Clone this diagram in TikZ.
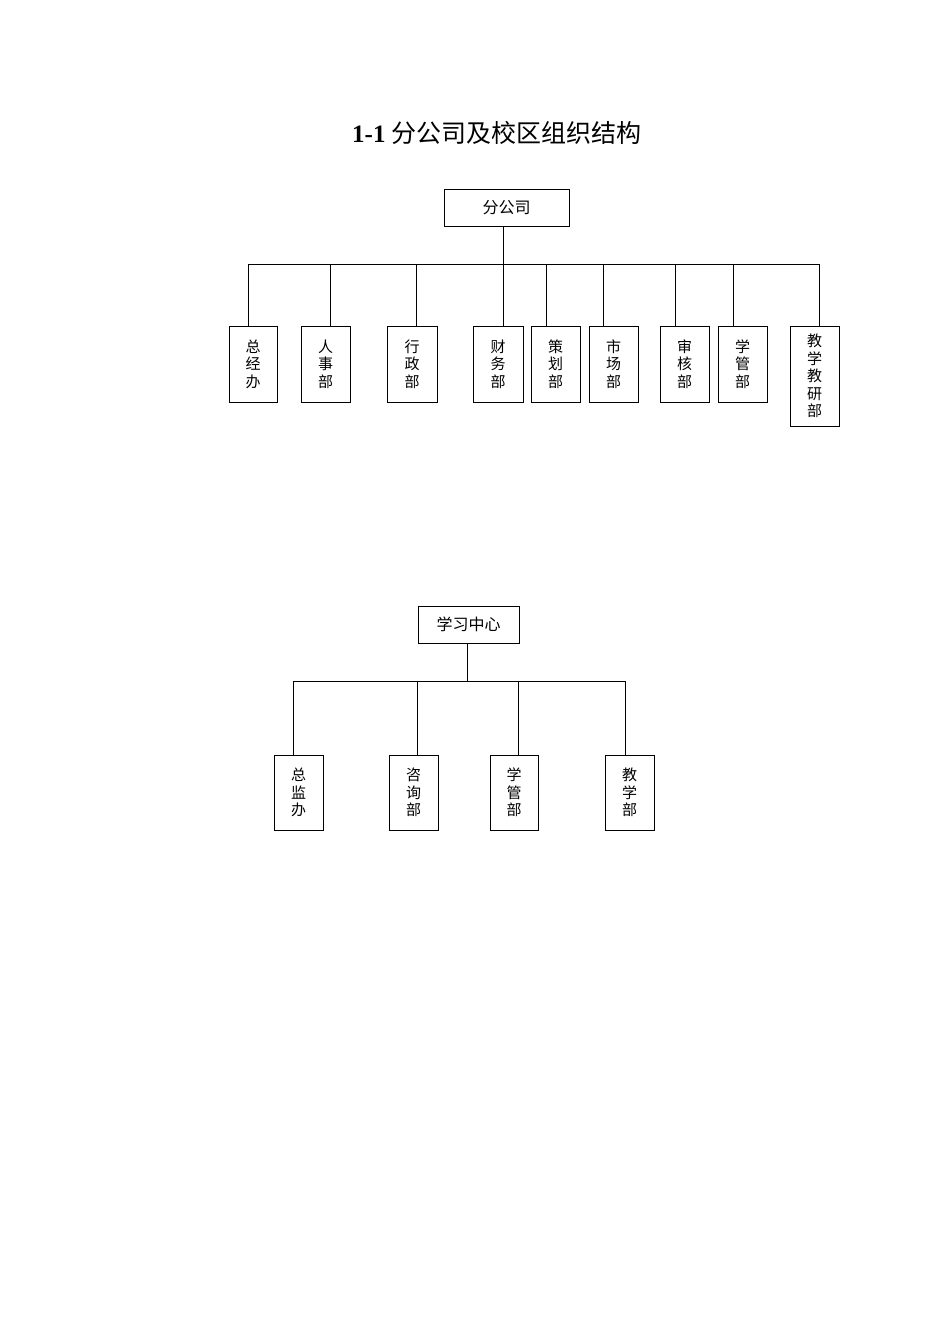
\documentclass[tikz,border=0pt]{standalone}
\usepackage{fontspec}
\setmainfont{Liberation Serif}
\newfontfamily\cjk{Noto Sans CJK SC}

\tikzset{
    bumen/.style={draw, line width=0.9pt, minimum width=49pt, minimum height=76pt, inner sep=0pt, align=center, font=\cjk\fontsize{15}{17.5}\selectfont},
    shangji/.style={draw, line width=0.9pt, minimum height=37pt, inner sep=0pt, font=\cjk\fontsize{16}{19}\selectfont},
    xian/.style={line width=0.9pt}
}

\begin{document}
\begin{tikzpicture}[x=1pt,y=-1pt]
        \useasboundingbox (0,0) rectangle (950,1344);
        \node (biaoti) at (497,133) {\fontsize{25}{30}\selectfont\textbf{1-1} {\cjk 分公司及校区组织结构}};

        \node[shangji, minimum width=125pt] (fgs) at (506.5,208) {分公司};
        \node[bumen, minimum width=48pt] (zjb) at (253,364) {总\\经\\办};
        \node[bumen] (rsb) at (325.5,364) {人\\事\\部};
        \node[bumen, minimum width=50pt] (xzb) at (412,364) {行\\政\\部};
        \node[bumen, minimum width=50pt] (cwb) at (498,364) {财\\务\\部};
        \node[bumen] (chb) at (555.5,364) {策\\划\\部};
        \node[bumen] (scb) at (613.5,364) {市\\场\\部};
        \node[bumen] (shb) at (684.5,364) {审\\核\\部};
        \node[bumen] (xgb) at (742.5,364) {学\\管\\部};
        \node[bumen, minimum height=100pt] (jyb) at (814.5,376) {教\\学\\教\\研\\部};

        \coordinate (d0) at (503,264);
        \coordinate (d1) at (248,264);
        \coordinate (d2) at (330,264);
        \coordinate (d3) at (416,264);
        \coordinate (d4) at (503,264);
        \coordinate (d5) at (546,264);
        \coordinate (d6) at (603,264);
        \coordinate (d7) at (675,264);
        \coordinate (d8) at (733,264);
        \coordinate (d9) at (819,264);
        \draw[xian] (d0 |- fgs.south) -- (d0);
        \draw[xian] (d1) -- (d9);
        \draw[xian] (d1) -- (d1 |- zjb.north);
        \draw[xian] (d2) -- (d2 |- rsb.north);
        \draw[xian] (d3) -- (d3 |- xzb.north);
        \draw[xian] (d4) -- (d4 |- cwb.north);
        \draw[xian] (d5) -- (d5 |- chb.north);
        \draw[xian] (d6) -- (d6 |- scb.north);
        \draw[xian] (d7) -- (d7 |- shb.north);
        \draw[xian] (d8) -- (d8 |- xgb.north);
        \draw[xian] (d9) -- (d9 |- jyb.north);

        \node[shangji, minimum width=101pt] (xxzx) at (468.5,624.5) {学习中心};
        \node[bumen, minimum height=75pt] (zjb2) at (298.5,792.5) {总\\监\\办};
        \node[bumen, minimum height=75pt] (zxb) at (413.5,792.5) {咨\\询\\部};
        \node[bumen, minimum height=75pt, minimum width=48pt] (xgb2) at (514,792.5) {学\\管\\部};
        \node[bumen, minimum height=75pt] (jxb) at (629.5,792.5) {教\\学\\部};

        \coordinate (e0) at (467,681);
        \coordinate (e1) at (293,681);
        \coordinate (e2) at (417,681);
        \coordinate (e3) at (518,681);
        \coordinate (e4) at (625,681);
        \draw[xian] (e0 |- xxzx.south) -- (e0);
        \draw[xian] (e1) -- (e4);
        \draw[xian] (e1) -- (e1 |- zjb2.north);
        \draw[xian] (e2) -- (e2 |- zxb.north);
        \draw[xian] (e3) -- (e3 |- xgb2.north);
        \draw[xian] (e4) -- (e4 |- jxb.north);
    \end{tikzpicture}
\end{document}
